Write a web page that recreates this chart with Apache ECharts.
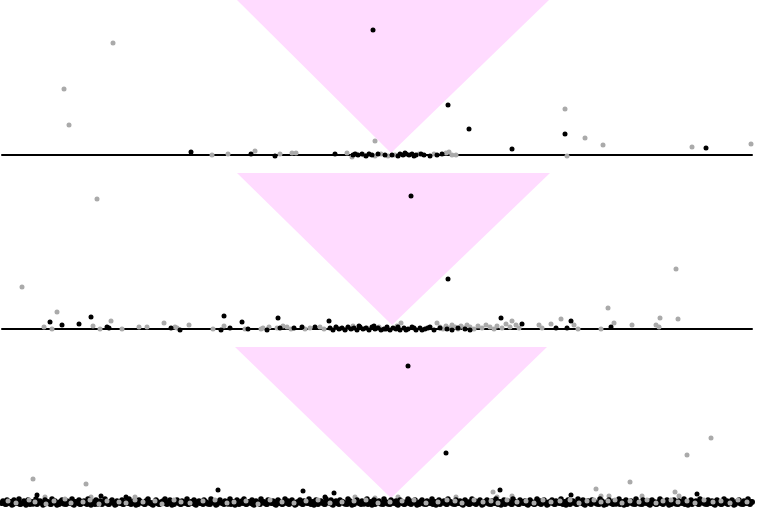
<!DOCTYPE html>
<html>
<head>
<meta charset="utf-8">
<script src="https://cdn.jsdelivr.net/npm/echarts@6/dist/echarts.min.js"></script>
<style>html,body{margin:0;padding:0;background:#fff}#c{width:758px;height:516px}</style>
</head>
<body>
<div id="c"></div>
<script>
// Shaded inverted triangles [x, y] per panel
var tri1 = [[235,155],[547,155],[389,2]];
var tri2 = [[235,156],[548,156],[390,4]];
var tri3 = [[233,155],[545,155],[389,4]];

// Panel 1 points [position, value]
var p1Black = [[371,125],[446,50],[467,26],[510,6],[563,21],[704,7],[189,3],[249,1],[273,-1],[333,1],
  [351,0],[356,0],[360,1],[364,-1],[370,0],[376,1],[383,0],[390,0],[398,1],[401,0],[404,1],[407,0],
  [410,1],[414,0],[422,0],[428,-1],[435,0],[440,1],[353,1],[367,1],[396,-1],[403,2],[412,-1],[419,1]];
var p1Gray = [[111,112],[62,66],[67,30],[373,14],[563,46],[583,17],[601,10],[690,8],[749,11],[565,-1],
  [210,0],[226,1],[253,4],[278,1],[290,2],[294,2],[345,2],[350,-2],[354,1],[362,0],[367,1],[373,-1],
  [379,1],[386,-1],[393,0],[417,1],[432,1],[444,2],[447,3],[450,0],[454,0]];

// Panel 2 points
var p2Black = [[409,133],[446,50],[48,7],[60,4],[77,5],[89,12],[105,2],[107,1],[169,1],[178,-1],
  [219,-1],[222,13],[228,1],[240,7],[246,0],[265,-1],[276,11],[278,1],[292,1],[300,2],[313,2],[327,8],
  [499,11],[520,5],[554,1],[565,1],[569,8],[609,2],
  [328,1],[331,-1],[334,2],[337,0],[340,1],[343,-1],[346,2],[349,0],[352,1],[355,-1],[358,2],[361,0],
  [364,1],[367,-1],[370,2],[373,0],[376,1],[379,-1],[382,0],[385,2],[388,-1],[391,1],[394,0],[398,-1],
  [402,1],[406,0],[410,2],[414,-1],[418,1],[423,0],[428,2],[432,-1],[438,1],[445,0],[450,-1],[456,1],
  [463,0],[468,-1],[357,3],[372,3],[384,0],[396,2],[404,-1],[412,1],[420,-1],[426,1]];
var p2Gray = [[95,130],[20,42],[55,17],[42,2],[50,0],[91,3],[98,0],[109,8],[120,0],[137,2],[145,2],
  [162,6],[173,2],[175,1],[187,4],[211,0],[222,3],[243,0],[259,0],[261,1],[267,2],[275,1],[281,3],
  [285,2],[289,0],[303,0],[308,1],[318,2],[322,0],[399,6],[435,6],[510,8],[514,4],[537,4],[540,1],
  [549,5],[559,10],[572,4],[576,0],[606,21],[599,0],[612,6],[630,4],[654,4],[658,11],[657,2],[674,60],
  [676,10],
  [438,2],[441,0],[444,3],[447,1],[450,4],[453,2],[456,0],[459,3],[462,1],[465,4],[468,2],[472,0],
  [476,3],[480,1],[484,4],[488,2],[492,0],[495,3],[500,1],[504,5],[508,2],[517,1],
  [334,2],[344,0],[351,3],[365,1],[377,2],[395,3],[425,1]];

// Panel 3 points
var p3Black = [[406,136],[444,49],[216,12],[301,11],[332,9],[35,7],[99,6],[124,5],[323,5],[498,12],
  [695,8],[569,7]];
var p3Gray = [[31,23],[84,18],[43,5],[89,5],[133,5],[353,5],[373,4],[709,64],[685,47],[628,20],
  [594,13],[673,10],[491,10],[495,5],[396,5],[454,5],[607,6],[599,6],[640,6],[677,6],[510,6]];
var p3BandBlack = [[1,1],[3,-2],[5,2],[8,0],[10,-3],[12,2],[15,-1],[17,3],[19,-2],[22,1],[24,-3],[26,2],
  [29,0],[31,-2],[34,3],[36,-1],[38,1],[41,-3],[43,2],[46,0],[48,-2],[50,3],[53,1],[55,-3],[58,0],[60,2],
  [62,-2],[65,1],[67,-1],[70,3],[72,-3],[74,0],[77,2],[79,-2],[82,1],[84,-1],[86,3],[89,-3],[91,0],[94,2],
  [96,-2],[98,1],[101,-1],[103,3],[106,-2],[108,0],[110,2],[113,-3],[115,1],[118,-1],[120,2],[122,-2],
  [125,0],[127,3],[130,-1],[132,1],[134,-3],[137,2],[139,0],[142,-2],[144,1],[146,3],[149,-1],[151,-3],
  [154,2],[156,0],[158,-2],[161,1],[163,3],[166,-1],[168,2],[170,-3],[173,0],[175,2],[178,-2],[180,1],
  [182,-1],[185,3],[187,-2],[190,0],[192,2],[194,-3],[197,1],[199,-1],[202,2],[204,0],[206,-2],[209,3],
  [211,1],[214,-3],[216,0],[218,2],[221,-1],[223,1],[226,-2],[228,3],[230,0],[233,-3],[235,2],[238,-1],
  [240,1],[242,3],[245,-2],[247,0],[250,2],[252,-3],[254,1],[257,-1],[259,3],[262,0],[264,-2],[266,2],
  [269,-1],[271,1],[274,-3],[276,2],[278,0],[281,-2],[283,3],[286,1],[288,-1],[290,2],[293,-3],[295,0],
  [298,2],[300,-2],[302,1],[305,-1],[307,3],[310,0],[312,-3],[314,2],[317,-1],[319,1],[322,-2],[324,3],
  [326,0],[329,2],[331,-3],[334,1],[336,-1],[338,2],[341,0],[343,-2],[346,3],[348,1],[350,-3],[353,0],
  [355,2],[358,-1],[360,1],[362,-2],[365,3],[367,0],[370,-3],[372,2],[374,-1],[377,1],[379,-2],[382,3],
  [384,0],[386,-2],[389,2],[391,-1],[394,1],[396,-3],[398,2],[401,0],[403,-2],[406,3],[408,1],[410,-1],
  [413,2],[415,-3],[418,0],[420,2],[422,-2],[425,1],[427,-1],[430,3],[432,0],[434,-3],[437,2],[439,-1],
  [442,1],[444,-2],[446,3],[449,0],[451,-2],[454,2],[456,-1],[458,1],[461,-3],[463,2],[466,0],[468,-2],
  [470,3],[473,1],[475,-1],[478,2],[480,-3],[482,0],[485,2],[487,-2],[490,1],[492,-1],[494,3],[497,0],
  [499,-3],[502,2],[504,-1],[506,1],[509,-2],[511,3],[514,0],[516,-2],[518,2],[521,-1],[523,1],[526,-3],
  [528,2],[530,0],[533,-2],[535,3],[538,1],[540,-1],[542,2],[545,-3],[547,0],[550,2],[552,-2],[554,1],
  [557,-1],[559,3],[562,0],[564,-3],[566,2],[569,-1],[571,1],[574,-2],[576,3],[578,0],[581,2],[583,-3],
  [586,1],[588,-1],[590,2],[593,0],[595,-2],[598,3],[600,1],[602,-3],[605,0],[607,2],[610,-1],[612,1],
  [614,-2],[617,3],[619,0],[622,-3],[624,2],[626,-1],[629,1],[631,-2],[634,3],[636,0],[638,-2],[641,2],
  [643,-1],[646,1],[648,-3],[650,2],[653,0],[655,-2],[658,3],[660,1],[662,-1],[665,2],[667,-3],[670,0],
  [672,2],[674,-2],[677,1],[679,-1],[682,3],[684,0],[686,-3],[689,2],[691,-1],[694,1],[696,-2],[698,3],
  [701,0],[703,-2],[706,2],[708,-1],[710,1],[713,-3],[715,2],[718,0],[720,-2],[722,3],[725,1],[727,-1],
  [730,2],[732,-3],[734,0],[737,2],[739,-2],[742,1],[744,-1],[746,3],[749,0]];
var p3BandCore = [[0,-1],[2,0],[4,-2],[7,-1],[9,0],[11,-2],[14,-1],[16,0],[18,-2],[21,-1],[23,0],[25,-1],
  [28,-2],[30,0],[33,-1],[35,-2],[37,0],[40,-1],[42,-2],[45,0],[47,-1],[49,-2],[52,0],[54,-1],[57,-2],
  [59,0],[61,-1],[64,-2],[66,0],[69,-1],[71,-2],[73,0],[76,-1],[78,-2],[81,0],[83,-1],[85,-2],[88,0],
  [90,-1],[93,-2],[95,0],[97,-1],[100,-2],[102,0],[105,-1],[107,-2],[109,0],[112,-1],[114,-2],[117,0],
  [119,-1],[121,-2],[124,0],[126,-1],[129,-2],[131,0],[133,-1],[136,-2],[138,0],[141,-1],[143,-2],[145,0],
  [148,-1],[150,-2],[153,0],[155,-1],[157,-2],[160,0],[162,-1],[165,-2],[167,0],[169,-1],[172,-2],[174,0],
  [177,-1],[179,-2],[181,0],[184,-1],[186,-2],[189,0],[191,-1],[193,-2],[196,0],[198,-1],[201,-2],[203,0],
  [205,-1],[208,-2],[210,0],[213,-1],[215,-2],[217,0],[220,-1],[222,-2],[225,0],[227,-1],[229,-2],[232,0],
  [234,-1],[237,-2],[239,0],[241,-1],[244,-2],[246,0],[249,-1],[251,-2],[253,0],[256,-1],[258,-2],[261,0],
  [263,-1],[265,-2],[268,0],[270,-1],[273,-2],[275,0],[277,-1],[280,-2],[282,0],[285,-1],[287,-2],[289,0],
  [292,-1],[294,-2],[297,0],[299,-1],[301,-2],[304,0],[306,-1],[309,-2],[311,0],[313,-1],[316,-2],[318,0],
  [321,-1],[323,-2],[325,0],[328,-1],[330,-2],[333,0],[335,-1],[337,-2],[340,0],[342,-1],[345,-2],[347,0],
  [349,-1],[352,-2],[354,0],[357,-1],[359,-2],[361,0],[364,-1],[366,-2],[369,0],[371,-1],[373,-2],[376,0],
  [378,-1],[381,-2],[383,0],[385,-1],[388,-2],[390,0],[393,-1],[395,-2],[397,0],[400,-1],[402,-2],[405,0],
  [407,-1],[409,-2],[412,0],[414,-1],[417,-2],[419,0],[421,-1],[424,-2],[426,0],[429,-1],[431,-2],[433,0],
  [436,-1],[438,-2],[441,0],[443,-1],[445,-2],[448,0],[450,-1],[453,-2],[455,0],[457,-1],[460,-2],[462,0],
  [465,-1],[467,-2],[469,0],[472,-1],[474,-2],[477,0],[479,-1],[481,-2],[484,0],[486,-1],[489,-2],[491,0],
  [493,-1],[496,-2],[498,0],[501,-1],[503,-2],[505,0],[508,-1],[510,-2],[513,0],[515,-1],[517,-2],[520,0],
  [522,-1],[525,-2],[527,0],[529,-1],[532,-2],[534,0],[537,-1],[539,-2],[541,0],[544,-1],[546,-2],[549,0],
  [551,-1],[553,-2],[556,0],[558,-1],[561,-2],[563,0],[565,-1],[568,-2],[570,0],[573,-1],[575,-2],[577,0],
  [580,-1],[582,-2],[585,0],[587,-1],[589,-2],[592,0],[594,-1],[597,-2],[599,0],[601,-1],[604,-2],[606,0],
  [609,-1],[611,-2],[613,0],[616,-1],[618,-2],[621,0],[623,-1],[625,-2],[628,0],[630,-1],[633,-2],[635,0],
  [637,-1],[640,-2],[642,0],[645,-1],[647,-2],[649,0],[652,-1],[654,-2],[657,0],[659,-1],[661,-2],[664,0],
  [666,-1],[669,-2],[671,0],[673,-1],[676,-2],[678,0],[681,-1],[683,-2],[685,0],[688,-1],[690,-2],[693,0],
  [695,-1],[697,-2],[700,0],[702,-1],[705,-2],[707,0],[709,-1],[712,-2],[714,0],[717,-1],[719,-2],[721,0],
  [724,-1],[726,-2],[729,0],[731,-1],[733,-2],[736,0],[738,-1],[741,-2],[743,0],[745,-1],[748,-2],[750,0]];
var p3BandGray = [[6,1],[14,-1],[27,2],[33,0],[44,-2],[52,1],[63,3],[69,-1],[81,0],[88,2],[97,-2],[105,1],
  [117,0],[124,-1],[133,2],[141,0],[153,1],[160,-2],[172,2],[179,0],[188,-1],[201,1],[213,2],[225,-1],
  [232,0],[244,1],[256,-2],[268,2],[280,0],[292,-1],[304,1],[316,2],[328,-1],[340,0],[352,1],[364,2],
  [376,-1],[388,0],[400,1],[412,2],[424,-1],[436,0],[445,2],[453,1],[460,-1],[472,2],[481,0],[489,1],
  [496,-1],[505,2],[515,0],[524,1],[532,-1],[541,2],[549,0],[558,1],[568,2],[577,-1],[585,1],[592,2],
  [599,0],[606,1],[613,2],[620,-1],[628,1],[637,0],[645,2],[654,-1],[661,1],[669,2],[676,0],[685,1],
  [693,-1],[702,2],[711,0],[719,1],[728,-1],[736,2],[745,0]];

var panels = [
  {top:0,   height:161, min:-6, max:155, tri:tri1, sets:[[p1Gray,'#aaaaaa',5],[p1Black,'#000000',5]]},
  {top:173, height:162, min:-6, max:156, tri:tri2, sets:[[p2Gray,'#aaaaaa',5],[p2Black,'#000000',5]]},
  {top:346, height:164, min:-8, max:156, tri:tri3, sets:[[p3Gray,'#aaaaaa',5],[p3Black,'#000000',5],
    [p3BandCore,'#000000',6],[p3BandBlack,'#000000',5.5],[p3BandGray,'#aaaaaa',5]]}
];

var grids=[], xAxes=[], yAxes=[], series=[];
panels.forEach(function(p, i){
  grids.push({left:2, width:750, top:p.top, height:p.height});
  xAxes.push({type:'value', gridIndex:i, min:0, max:750,
    axisLine:{show:true, onZero:true, lineStyle:{color:'#000', width:2}},
    axisTick:{show:false}, axisLabel:{show:false}, splitLine:{show:false}});
  yAxes.push({type:'value', gridIndex:i, min:p.min, max:p.max, show:false, splitLine:{show:false}});
  var tri = p.tri;
  series.push({type:'custom', xAxisIndex:i, yAxisIndex:i, data:[0], silent:true, z:1,
    renderItem:function(params, api){
      return {type:'polygon', shape:{points:tri.map(function(v){return api.coord(v);})},
        style:{fill:'#ffdbff'}};
    }});
  p.sets.forEach(function(s){
    series.push({type:'scatter', xAxisIndex:i, yAxisIndex:i, data:s[0], symbol:'circle', symbolSize:s[2],
      itemStyle:{color:s[1], opacity:1}, silent:true, z:2});
  });
});

var chart = echarts.init(document.getElementById('c'), null, {renderer:'canvas'});
chart.setOption({animation:false, grid:grids, xAxis:xAxes, yAxis:yAxes, series:series});
</script>
</body>
</html>
